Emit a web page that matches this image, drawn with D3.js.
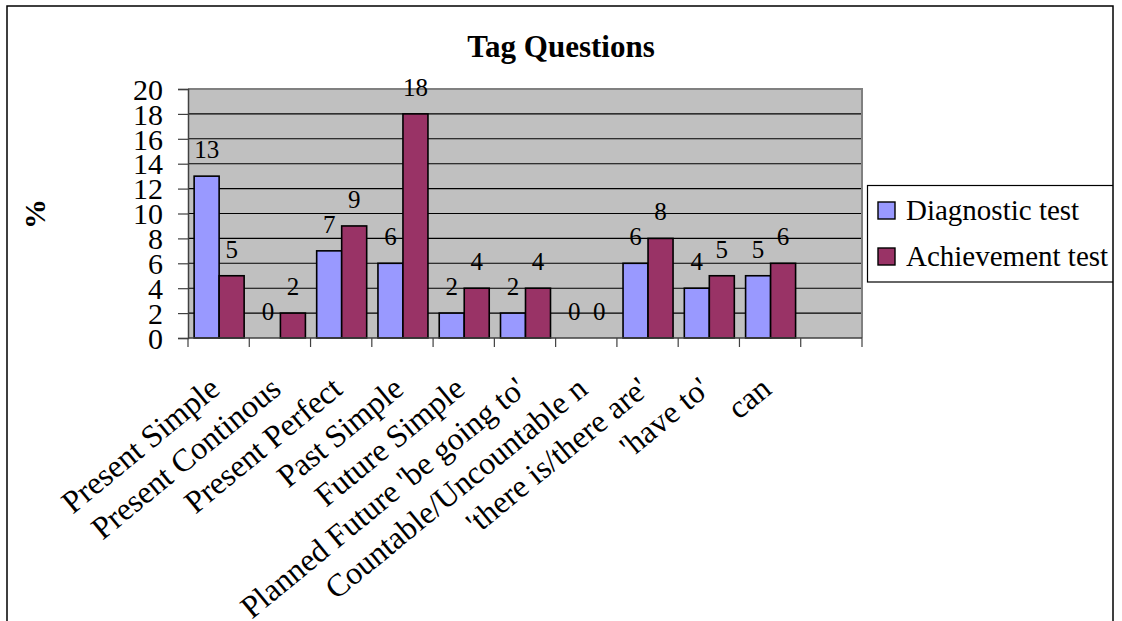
<!DOCTYPE html>
<html>
<head>
<meta charset="utf-8">
<script src="https://cdn.jsdelivr.net/npm/d3@7"></script>
<style>
  html, body { margin: 0; padding: 0; background: #fff; }
  svg { display: block; font-family: "Liberation Serif", "Times New Roman", serif; }
</style>
</head>
<body>
<svg id="chart" width="1122" height="621"></svg>
<script>
const title = "Tag Questions";
const yAxisTitle = "%";
const categories = ["Present Simple", "Present Continous", "Present Perfect", "Past Simple", "Future Simple",
  "Planned Future 'be going to'", "Countable/Uncountable n", "'there is/there are'", "'have to'", "can", ""];
const seriesNames = ["Diagnostic test", "Achievement test"];
const diagnostic = [13, 0, 7, 6, 2, 2, 0, 6, 4, 5, null];
const achievement = [5, 2, 9, 18, 4, 4, 0, 8, 5, 6, null];
const yTicks = [0, 2, 4, 6, 8, 10, 12, 14, 16, 18, 20];
const colors = ["#9999FF", "#993366"];

const svg = d3.select("#chart");
const plot = { left: 188, top: 89, right: 862, bottom: 338 };

// clip to the outer frame
svg.append("defs").append("clipPath").attr("id", "frameClip")
  .append("rect").attr("x", 7).attr("y", 6).attr("width", 1106).attr("height", 700);

const root = svg.append("g").attr("clip-path", "url(#frameClip)");

const x = d3.scaleBand().domain(categories.map((d, i) => i)).range([plot.left, plot.right]).paddingInner(0).paddingOuter(0);
const y = d3.scaleLinear().domain([0, 20]).range([plot.bottom, plot.top]);

// plot background
root.append("rect").attr("x", plot.left).attr("y", plot.top)
  .attr("width", plot.right - plot.left).attr("height", plot.bottom - plot.top)
  .attr("fill", "#C0C0C0");

// gridlines
root.append("g").selectAll("line").data(yTicks.filter(t => t > 0 && t < 20)).join("line")
  .attr("x1", plot.left).attr("x2", plot.right)
  .attr("y1", d => y(d)).attr("y2", d => y(d))
  .attr("stroke", "#000").attr("stroke-width", 1.1);

// plot border top & right
root.append("path")
  .attr("d", `M${plot.left},${plot.top}H${plot.right}V${plot.bottom}`)
  .attr("fill", "none").attr("stroke", "#808080").attr("stroke-width", 2);

// bars
const series = [diagnostic, achievement];
const bw = 25;
series.forEach((vals, si) => {
  root.append("g").selectAll("rect").data(vals.map((v, i) => ({ v, i })).filter(d => d.v !== null && d.v > 0)).join("rect")
    .attr("x", d => x(d.i) + x.bandwidth() / 2 - bw + si * bw + 0.5)
    .attr("y", d => y(d.v))
    .attr("width", bw)
    .attr("height", d => y(0) - y(d.v))
    .attr("fill", colors[si])
    .attr("stroke", "#000").attr("stroke-width", 1.6);
});

// value labels
series.forEach((vals, si) => {
  root.append("g").selectAll("text").data(vals.map((v, i) => ({ v, i })).filter(d => d.v !== null)).join("text")
    .attr("x", d => x(d.i) + x.bandwidth() / 2 - bw / 2 + si * bw + 0.5)
    .attr("y", d => y(d.v) - 18)
    .attr("text-anchor", "middle")
    .attr("font-size", 25)
    .attr("fill", "#000")
    .text(d => d.v);
});

// y axis
const yAxis = d3.axisLeft(y).tickValues(yTicks).tickSize(10).tickPadding(15).tickFormat(d3.format("d"));
const yg = root.append("g").attr("transform", `translate(${plot.left},0)`).call(yAxis);
yg.select(".domain").attr("stroke", "#404040").attr("stroke-width", 1.5);
yg.selectAll(".tick line").attr("stroke", "#404040").attr("stroke-width", 1.2);
yg.selectAll(".tick text").attr("font-size", 30).attr("font-family", "Liberation Serif").attr("fill", "#000").attr("dy", "0.34em");

// x axis line and boundary ticks
const boundaries = categories.map((d, i) => x(i)).concat([plot.right]);
root.append("line").attr("x1", plot.left).attr("x2", plot.right).attr("y1", plot.bottom).attr("y2", plot.bottom)
  .attr("stroke", "#404040").attr("stroke-width", 1.5);
root.append("g").selectAll("line").data(boundaries).join("line")
  .attr("x1", d => d).attr("x2", d => d).attr("y1", plot.bottom).attr("y2", plot.bottom + 9)
  .attr("stroke", "#404040").attr("stroke-width", 1.2);

// category labels
root.append("g").selectAll("text").data(categories.map((c, i) => ({ c, i }))).join("text")
  .attr("transform", d => `translate(${x(d.i) + x.bandwidth() / 2 + 3},${plot.bottom + 54}) rotate(-39.5)`)
  .attr("text-anchor", "end")
  .attr("font-size", 32)
  .attr("fill", "#000")
  .text(d => d.c);

// title
root.append("text").attr("x", 561).attr("y", 57).attr("text-anchor", "middle")
  .attr("font-size", 31).attr("font-weight", "bold").attr("fill", "#000").text(title);

// y axis title
root.append("text").attr("transform", "translate(45,214) rotate(-90)").attr("text-anchor", "middle")
  .attr("font-size", 30).attr("font-weight", "bold").attr("fill", "#000").text(yAxisTitle);

// legend
const lg = root.append("g");
lg.append("rect").attr("x", 867.5).attr("y", 185.5).attr("width", 260).attr("height", 96.5)
  .attr("fill", "#fff").attr("stroke", "#000").attr("stroke-width", 1.2);
seriesNames.forEach((name, i) => {
  lg.append("rect").attr("x", 878).attr("y", 202 + i * 46).attr("width", 17).attr("height", 17)
    .attr("fill", colors[i]).attr("stroke", "#000").attr("stroke-width", 1.4);
  lg.append("text").attr("x", 906).attr("y", 220 + i * 46).attr("font-size", 29).attr("fill", "#000").text(name);
});

// outer frame
svg.append("rect").attr("x", 7).attr("y", 6).attr("width", 1106).attr("height", 700)
  .attr("fill", "none").attr("stroke", "#000").attr("stroke-width", 1.5);
</script>
</body>
</html>
